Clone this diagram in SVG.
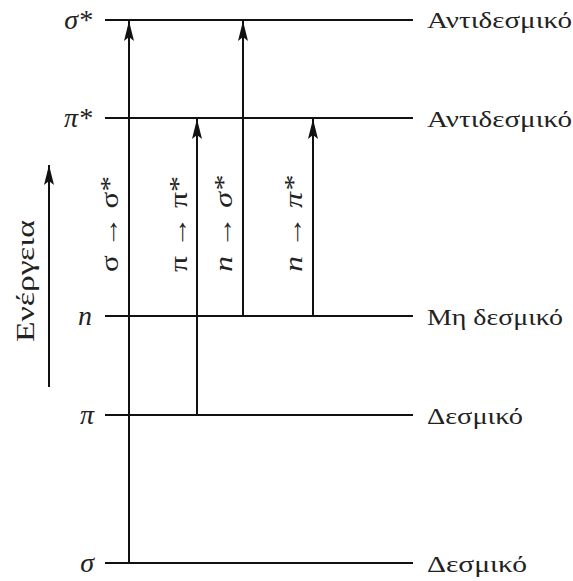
<svg xmlns="http://www.w3.org/2000/svg" width="573" height="581" viewBox="0 0 573 581">
<defs>
<marker id="ah" viewBox="0 0 20 10" refX="20" refY="5" markerWidth="20" markerHeight="10" markerUnits="userSpaceOnUse" orient="auto">
<path d="M0,0 L20,5 L0,10 L4,5 Z" fill="#111"/>
</marker>
<style>
.lvl{stroke:#111;stroke-width:2.2;fill:none}
.tr{stroke:#111;stroke-width:2;fill:none}
.t{font-family:"Liberation Serif","Noto Sans CJK SC",serif;font-size:24px;fill:#222}
.l{font-family:"Liberation Serif","Noto Sans CJK SC",serif;font-size:28px;fill:#222;font-style:italic}
.r{font-family:"Liberation Serif","Noto Sans CJK SC",serif;font-size:25px;fill:#222}
.i{font-style:italic}
</style>
</defs>
<rect width="573" height="581" fill="#fff"/>
<g id="level-sigma-star">
<line class="lvl" x1="105" y1="20" x2="413" y2="20"/>
<text class="l" x="92" y="29" text-anchor="end">σ*</text>
<text class="t" x="427" y="28" textLength="145" lengthAdjust="spacingAndGlyphs">Αντιδεσμικό</text>
</g>
<g id="level-pi-star">
<line class="lvl" x1="105" y1="118" x2="413" y2="118"/>
<text class="l" x="92" y="127" text-anchor="end">π*</text>
<text class="t" x="427" y="127" textLength="145" lengthAdjust="spacingAndGlyphs">Αντιδεσμικό</text>
</g>
<g id="level-n">
<line class="lvl" x1="105" y1="316" x2="413" y2="316"/>
<text class="l" x="92" y="325" text-anchor="end">n</text>
<text class="t" x="427" y="325" textLength="136" lengthAdjust="spacingAndGlyphs">Μη δεσμικό</text>
</g>
<g id="level-pi">
<line class="lvl" x1="105" y1="415" x2="413" y2="415"/>
<text class="l" x="94" y="424" text-anchor="end">π</text>
<text class="t" x="427" y="424" textLength="96" lengthAdjust="spacingAndGlyphs">Δεσμικό</text>
</g>
<g id="level-sigma">
<line class="lvl" x1="105" y1="563" x2="413" y2="563"/>
<text class="l" x="94" y="572" text-anchor="end">σ</text>
<text class="t" x="427" y="572" textLength="100" lengthAdjust="spacingAndGlyphs">Δεσμικό</text>
</g>
<g id="connectors">
<line class="tr" x1="129" y1="563" x2="129" y2="21" marker-end="url(#ah)"/>
<line class="tr" x1="197" y1="415" x2="197" y2="119" marker-end="url(#ah)"/>
<line class="tr" x1="243" y1="316" x2="243" y2="21" marker-end="url(#ah)"/>
<line class="tr" x1="313" y1="316" x2="313" y2="119" marker-end="url(#ah)"/>
<line class="tr" x1="49" y1="387" x2="49" y2="165" marker-end="url(#ah)"/>
</g>
<g id="transition-labels">
<text class="r" transform="translate(118,224) rotate(-90)" text-anchor="middle" textLength="96" lengthAdjust="spacingAndGlyphs">σ → σ*</text>
<text class="r" transform="translate(187,224) rotate(-90)" text-anchor="middle" textLength="96" lengthAdjust="spacingAndGlyphs">π → π*</text>
<text class="r i" transform="translate(232,224) rotate(-90)" text-anchor="middle" textLength="96" lengthAdjust="spacingAndGlyphs">n → σ*</text>
<text class="r i" transform="translate(302,224) rotate(-90)" text-anchor="middle" textLength="96" lengthAdjust="spacingAndGlyphs">n → π*</text>
</g>
<g id="energy-axis">
<text class="r" transform="translate(34,281) rotate(-90)" text-anchor="middle" textLength="122" lengthAdjust="spacingAndGlyphs">Ενέργεια</text>
</g>
</svg>
